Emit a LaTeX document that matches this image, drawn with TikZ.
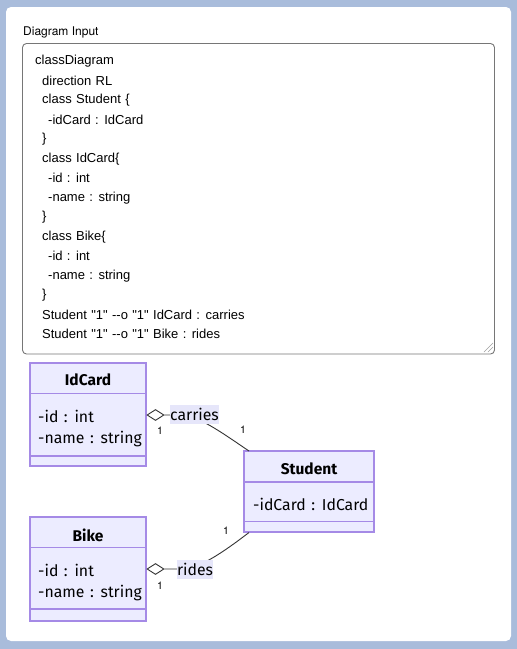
\documentclass[tikz,border=0pt]{standalone}
\usepackage{fontspec}
\newfontfamily\uifont{TeX Gyre Heros}
\newfontfamily\codefont[WordSpace=1.2]{Liberation Sans}
\newfontfamily\mfont[WordSpace=1.3]{Fira Sans}
\usetikzlibrary{shapes.geometric}
\definecolor{bgblue}{HTML}{A9BCDB}
\definecolor{tagray}{HTML}{767676}
\definecolor{clsfill}{HTML}{ECECFF}
\definecolor{clsline}{HTML}{A58AE6}
\definecolor{lblfill}{HTML}{E6E6FA}
\definecolor{edge}{HTML}{333333}
\tikzset{
  code/.style={anchor=west, inner sep=0pt, font=\codefont\fontsize{13}{15}\selectfont},
  cls/.style={draw=clsline, fill=clsfill, line width=1.3pt},
  clsdiv/.style={draw=clsline, line width=1.3pt},
  ctitle/.style={inner sep=0pt, font=\mfont\bfseries\fontsize{15.5}{18}\selectfont},
  cattr/.style={anchor=west, inner sep=0pt, font=\mfont\fontsize{15.8}{18}\selectfont},
  elabel/.style={fill=lblfill, inner sep=0pt, font=\mfont\fontsize{15.8}{18}\selectfont},
  mult/.style={inner sep=0pt, font=\uifont\fontsize{10.5}{12}\selectfont},
  conn/.style={draw=edge, line width=0.9pt},
  agg/.style={diamond, draw=edge, fill=white, line width=0.9pt, minimum width=17pt, minimum height=11pt, inner sep=0pt},
}
\begin{document}
\begin{tikzpicture}[x=1pt,y=-1pt]
\fill[bgblue] (0,0) rectangle (517,649);
\useasboundingbox (0,0) rectangle (517,649);
\fill[white, rounded corners=5pt] (6,7) rectangle (511,641);
\node[anchor=west, inner sep=0pt, font=\uifont\fontsize{12}{14}\selectfont] (title) at (23,32) {Diagram Input};
\draw[tagray, line width=0.9pt, rounded corners=4pt] (22.5,43.5) rectangle (494.5,354);
\draw[tagray!70, line width=0.6pt] (484,352) -- (493,343) (488,352) -- (493,347);
\node[code] (l1) at (35,61) {classDiagram};
\node[code] (l2) at (42,81) {direction RL};
\node[code] (l3) at (42,100) {class Student \{};
\node[code] (l4) at (48,120) {-idCard : IdCard};
\node[code] (l5) at (42,139) {\}};
\node[code] (l6) at (42,159) {class IdCard\{};
\node[code] (l7) at (48,178) {-id : int};
\node[code] (l8) at (48,198) {-name : string};
\node[code] (l9) at (42,217) {\}};
\node[code] (l10) at (42,237) {class Bike\{};
\node[code] (l11) at (48,256) {-id : int};
\node[code] (l12) at (48,276) {-name : string};
\node[code] (l13) at (42,295) {\}};
\node[code] (l14) at (42,315) {Student "1" -\kern0pt-o "1" IdCard : carries};
\node[code] (l15) at (42,334) {Student "1" -\kern0pt-o "1" Bike : rides};
% IdCard
\path[cls] (30,363) rectangle (146,466);
\draw[clsdiv] (30,393.5) -- (146,393.5);
\draw[clsdiv] (30,456) -- (146,456);
\node[ctitle] (idct) at (88,380) {IdCard};
\node[cattr] (idca1) at (38,416) {-id : int};
\node[cattr] (idca2) at (38,439) {-name : string};
% Bike
\path[cls] (30,517) rectangle (146,621);
\draw[clsdiv] (30,547.5) -- (146,547.5);
\draw[clsdiv] (30,609) -- (146,609);
\node[ctitle] (bikt) at (88,535) {Bike};
\node[cattr] (bika1) at (38,570) {-id : int};
\node[cattr] (bika2) at (38,593) {-name : string};
% Student
\path[cls] (244,451) rectangle (374,532);
\draw[clsdiv] (244,482) -- (374,482);
\draw[clsdiv] (244,521.5) -- (374,521.5);
\node[ctitle] (stut) at (309,469) {Student};
\node[cattr] (stua1) at (253,504) {-idCard : IdCard};
\coordinate (stuA) at (249,451);
\coordinate (stuB) at (249,532.5);
% edges
\node[agg] (d1) at (155.5,415) {};
\node[agg] (d2) at (155.5,569) {};
\draw[conn] (d1.east) -- (182,415) .. controls (200,416) and (228,437) .. (stuA);
\draw[conn] (d2.east) -- (185,569) .. controls (203,567) and (230,547) .. (stuB);
\node[elabel, minimum width=49pt, minimum height=19pt] (carries) at (194.5,414.5) {carries};
\node[elabel, minimum width=36pt, minimum height=19pt] (rides) at (195,569) {rides};
\node[mult] (m1) at (160,431) {1};
\node[mult] (m2) at (243,430) {1};
\node[mult] (m3) at (160,586) {1};
\node[mult] (m4) at (226,531) {1};
\end{tikzpicture}
\end{document}
